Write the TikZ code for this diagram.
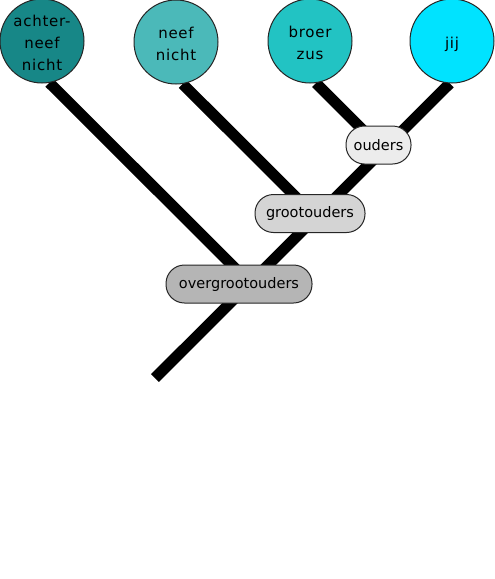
\documentclass[tikz,border=0pt]{standalone}
\usepackage{fontspec}
\setmainfont{DejaVu Sans}
\newfontfamily\circfont[LetterSpace=5]{DejaVu Sans}
\usetikzlibrary{backgrounds}
\definecolor{cA}{HTML}{178787}
\definecolor{cB}{HTML}{4BB9B9}
\definecolor{cC}{HTML}{22C3C3}
\definecolor{cD}{HTML}{00E3FF}
\definecolor{bA}{HTML}{ECECEC}
\definecolor{bB}{HTML}{D4D4D4}
\definecolor{bC}{HTML}{B5B5B5}
\newcommand{\circtext}[1]{\raisebox{-6.5pt}[0pt][0pt]{\begin{tabular}{@{}c@{}}#1\end{tabular}}}
\begin{document}
\begin{tikzpicture}[x=1pt,y=-1pt,
  person/.style={circle,draw=black!85,line width=1pt,minimum size=84pt,inner sep=0pt,align=center,
    font=\circfont\fontsize{15}{22}\selectfont},
  gen/.style={draw=black!85,line width=1pt,rounded corners=18.5pt,minimum height=38pt,inner sep=0pt,
    font=\fontsize{14.5}{17}\selectfont},
  branch/.style={line width=11pt,black}]
\useasboundingbox (0,0) rectangle (495,579);
\node[person,fill=cA] (achter) at (42,41) {\circtext{achter-\\neef\\nicht}};
\node[person,fill=cB] (neef) at (176,42) {\circtext{neef\\nicht}};
\node[person,fill=cC] (broer) at (310,41) {\circtext{broer\\zus}};
\node[person,fill=cD] (jij) at (452,41) {\circtext{jij}};
\node[gen,fill=bA,minimum width=65pt] (ouders) at (378.5,145) {ouders};
\node[gen,fill=bB,minimum width=110pt] (groot) at (310,213.5) {grootouders};
\node[gen,fill=bC,minimum width=146pt] (overgroot) at (239,284) {overgrootouders};
\coordinate (j1) at (250,283);
\coordinate (j2) at (316,217);
\coordinate (j3) at (383,150);
\coordinate (root) at (155,378);
\begin{pgfonlayer}{background}
\draw[branch] (root) -- (jij.-93);
\draw[branch] (achter.-80) -- (j1);
\draw[branch] (neef.-81) -- (j2);
\draw[branch] (broer.-82) -- (j3);
\end{pgfonlayer}
\end{tikzpicture}
\end{document}
